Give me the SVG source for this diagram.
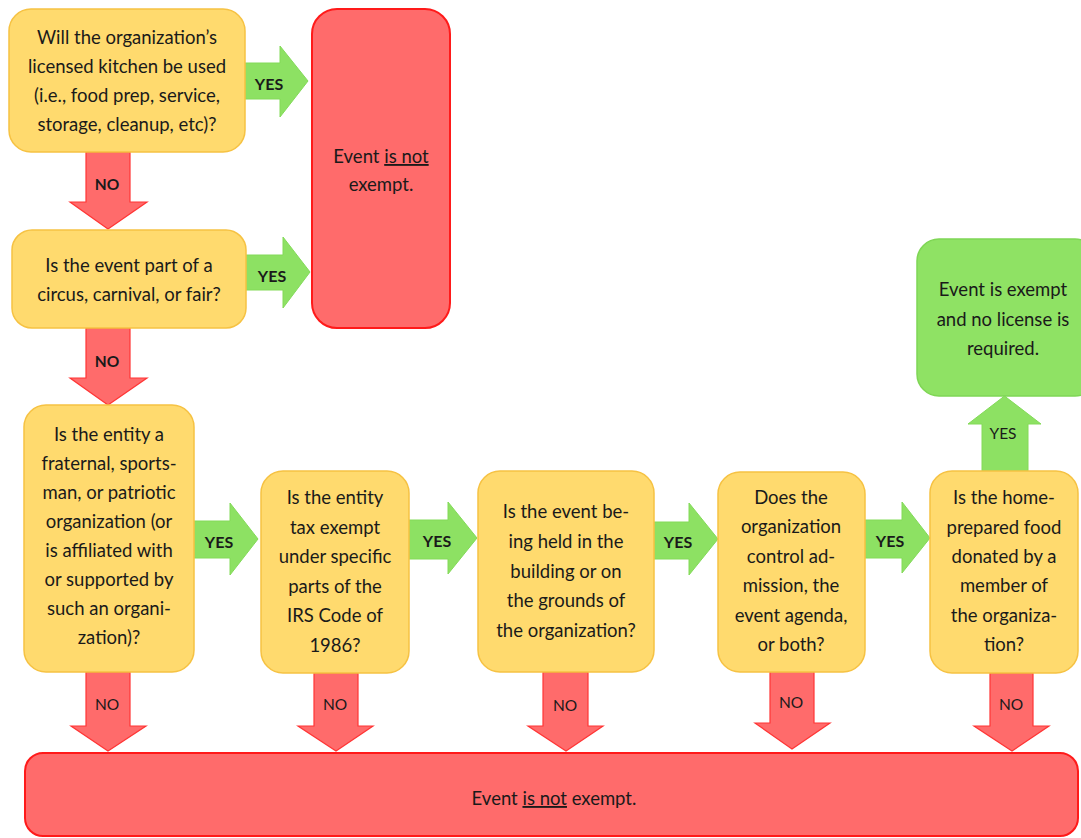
<svg xmlns="http://www.w3.org/2000/svg" width="1081" height="838" viewBox="0 0 1081 838">
<style>
.q{fill:#FFDA6E;stroke:#F6C243;stroke-width:1.5}
.r{fill:#FF6B6B;stroke:#FF1A1A;stroke-width:2}
.g{fill:#8FE264;stroke:#7FD655;stroke-width:1.5}
.ya{fill:#8DE163;stroke:#83DA59;stroke-width:1}
.na{fill:#FF6B6B;stroke:#FF3535;stroke-width:1.2}
text{font-family:Lato,"Open Sans","Liberation Sans",sans-serif;font-size:18.5px;fill:#1a1a1a;text-anchor:middle}
.lb{font-weight:bold;font-size:16px}
.lnb{font-weight:bold;font-size:15.5px}
.ln{font-size:15.5px}
</style>
<rect width="1081" height="838" fill="#ffffff"/>
<g id="connectors">
<polygon class="ya" points="245,63 280,63 280,46 308,81 280,117 280,99 245,99"/>
<text class="lb" x="269" y="90">YES</text>
<polygon class="ya" points="246,255 283,255 283,237 310,272 283,308 283,290 246,290"/>
<text class="lb" x="272" y="282">YES</text>
<polygon class="ya" points="194,521 230,521 230,503 258,539 230,575 230,558 194,558"/>
<text class="lb" x="219" y="548">YES</text>
<polygon class="ya" points="409,520 448,520 448,502 477,538 448,574 448,559 409,559"/>
<text class="lb" x="437" y="547">YES</text>
<polygon class="ya" points="654,522 689,522 689,503 718,539 689,575 689,559 654,559"/>
<text class="lb" x="678" y="548">YES</text>
<polygon class="ya" points="865,520 902,520 902,502 930,538 902,573 902,558 865,558"/>
<text class="lb" x="890" y="547">YES</text>
<polygon class="ya" points="982,471 982,424 968,424 1004.5,396 1041,424 1028,424 1028,471"/>
<text class="ln" x="1003" y="439">YES</text>
<polygon class="na" points="86,152 130,152 130,202 147,202 108,229 70,202 86,202"/>
<text class="lnb" x="107" y="190">NO</text>
<polygon class="na" points="86,328 130,328 130,378 147,378 108,405 70,378 86,378"/>
<text class="lnb" x="107" y="367">NO</text>
<polygon class="na" points="86,672 130,672 130,726 146,726 108,751 71,726 86,726"/>
<text class="ln" x="107" y="710">NO</text>
<polygon class="na" points="314,673 358,673 358,726 373,726 336,751 298,726 314,726"/>
<text class="ln" x="335" y="710">NO</text>
<polygon class="na" points="543,672 588,672 588,726 603,726 566,751 528,726 543,726"/>
<text class="ln" x="565" y="711">NO</text>
<polygon class="na" points="770,670 814,670 814,723 830,723 792,749 755,723 770,723"/>
<text class="ln" x="791" y="708">NO</text>
<polygon class="na" points="990,673 1033,673 1033,726 1049,726 1012,751 974,726 990,726"/>
<text class="ln" x="1011" y="710">NO</text>
</g>
<g id="q1">
<rect class="q" x="9" y="9" width="236" height="143" rx="22"/>
<text x="127" y="44">Will the organization’s</text>
<text x="127" y="73">licensed kitchen be used</text>
<text x="127" y="102">(i.e., food prep, service,</text>
<text x="127" y="131">storage, cleanup, etc)?</text>
</g>
<g id="notExempt1">
<rect class="r" x="312" y="9" width="138" height="319" rx="25"/>
<text x="381" y="163">Event <tspan text-decoration="underline">is not</tspan></text>
<text x="381" y="191">exempt.</text>
</g>
<g id="q2">
<rect class="q" x="12" y="230" width="234" height="98" rx="20"/>
<text x="129" y="272">Is the event part of a</text>
<text x="129" y="301">circus, carnival, or fair?</text>
</g>
<g id="q3">
<rect class="q" x="24" y="405" width="170" height="267" rx="22"/>
<text x="109" y="441">Is the entity a</text>
<text x="109" y="470">fraternal, sports-</text>
<text x="109" y="499">man, or patriotic</text>
<text x="109" y="528">organization (or</text>
<text x="109" y="557">is affiliated with</text>
<text x="109" y="586">or supported by</text>
<text x="109" y="615">such an organi-</text>
<text x="109" y="644">zation)?</text>
</g>
<g id="q4">
<rect class="q" x="261" y="471" width="148" height="202" rx="22"/>
<text x="335" y="504">Is the entity</text>
<text x="335" y="534">tax exempt</text>
<text x="335" y="563">under specific</text>
<text x="335" y="593">parts of the</text>
<text x="335" y="622">IRS Code of</text>
<text x="335" y="652">1986?</text>
</g>
<g id="q5">
<rect class="q" x="478" y="471" width="176" height="201" rx="22"/>
<text x="566" y="518">Is the event be-</text>
<text x="566" y="548">ing held in the</text>
<text x="566" y="578">building or on</text>
<text x="566" y="607">the grounds of</text>
<text x="566" y="637">the organization?</text>
</g>
<g id="q6">
<rect class="q" x="718" y="472" width="147" height="200" rx="22"/>
<text x="791" y="504">Does the</text>
<text x="791" y="533">organization</text>
<text x="791" y="563">control ad-</text>
<text x="791" y="592">mission, the</text>
<text x="791" y="622">event agenda,</text>
<text x="791" y="651">or both?</text>
</g>
<g id="q7">
<rect class="q" x="930" y="471" width="148" height="202" rx="22"/>
<text x="1004" y="504">Is the home-</text>
<text x="1004" y="534">prepared food</text>
<text x="1004" y="563">donated by a</text>
<text x="1004" y="592">member of</text>
<text x="1004" y="622">the organiza-</text>
<text x="1004" y="651">tion?</text>
</g>
<g id="exempt">
<rect class="g" x="917" y="239" width="180" height="157" rx="22"/>
<text x="1003" y="296">Event is exempt</text>
<text x="1003" y="326">and no license is</text>
<text x="1003" y="355">required.</text>
</g>
<g id="notExempt2">
<rect class="r" x="25" y="753" width="1053" height="83" rx="18"/>
<text x="554" y="805">Event <tspan text-decoration="underline">is not</tspan> exempt.</text>
</g>
</svg>
